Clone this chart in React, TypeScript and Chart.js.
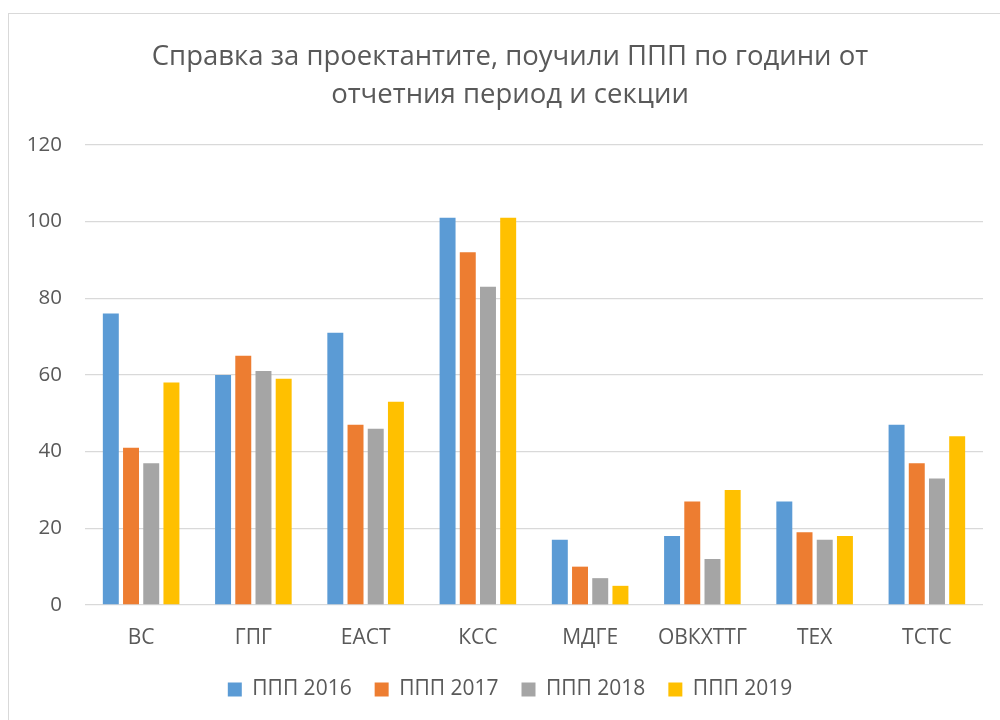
import React, { useEffect, useRef } from "react";
import { Chart, registerables } from "chart.js";

Chart.register(...registerables);

const categories = ["ВС", "ГПГ", "ЕАСТ", "КСС", "МДГЕ", "ОВКХТТГ", "ТЕХ", "ТСТС"];
const series2016 = [76, 60, 71, 101, 17, 18, 27, 47];
const series2017 = [41, 65, 47, 92, 10, 27, 19, 37];
const series2018 = [37, 61, 46, 83, 7, 12, 17, 33];
const series2019 = [58, 59, 53, 101, 5, 30, 18, 44];
const seriesNames = ["ППП 2016", "ППП 2017", "ППП 2018", "ППП 2019"];
const seriesColors = ["#5B9BD5", "#ED7D31", "#A5A5A5", "#FFC000"];
const titleLines = ["Справка за проектантите, поучили ППП по години от", "отчетния период и секции"];

const FONT = "'Open Sans', 'Noto Sans', sans-serif";
const TEXT = "#595959";
const GRID = "#D9D9D9";

export default function App() {
  const ref = useRef<HTMLCanvasElement>(null);
  useEffect(() => {
    if (!ref.current) return;
    const values = [series2016, series2017, series2018, series2019];
    const chart = new Chart(ref.current, {
      type: "bar",
      data: {
        labels: categories,
        datasets: values.map((v, i) => ({
          label: seriesNames[i],
          data: v,
          backgroundColor: seriesColors[i],
          borderWidth: 0,
          categoryPercentage: 0.72,
          barPercentage: 0.79,
          yAxisID: "y",
        })),
      },
      options: {
        animation: false,
        responsive: false,
        layout: { padding: { top: 13, left: 8, right: 0, bottom: 10 } },
        plugins: {
          title: {
            display: true,
            text: titleLines,
            color: TEXT,
            font: { family: FONT, size: 27.5, weight: "normal", lineHeight: 1.38 },
            padding: { top: 25, bottom: 31 },
          },
          legend: {
            position: "bottom",
            labels: {
              color: TEXT,
              font: { family: FONT, size: 21 },
              boxWidth: 14,
              boxHeight: 14,
              padding: 23,
            },
          },
          tooltip: { enabled: false },
        },
        scales: {
          x: {
            grid: { display: false, drawTicks: false },
            border: { display: false },
            ticks: { color: TEXT, font: { family: FONT, size: 21 }, padding: 20 },
            afterFit: (s: any) => { s.height = 51; },
          },
          y: {
            min: 0,
            max: 120,
            ticks: { stepSize: 20, color: TEXT, font: { family: FONT, size: 20.5 }, padding: 23 },
            grid: { color: GRID, lineWidth: 1.3, drawTicks: false },
            border: { display: false },
            afterFit: (s: any) => { s.width = 77; },
          },
          yr: {
            position: "right",
            display: true,
            min: 0,
            max: 120,
            grid: { display: false, drawTicks: false },
            border: { display: false },
            ticks: { display: false },
            afterFit: (s: any) => { s.width = 29; },
          },
        },
      },
    });
    return () => chart.destroy();
  }, []);

  return (
    <div style={{ position: "fixed", left: 0, top: 0, width: 1000, height: 720, overflow: "hidden", background: "#fff" }}>
      <canvas ref={ref} width={1012} height={720} style={{ position: "absolute", left: 0, top: 0, width: 1012, height: 720 }} />
      <div style={{ position: "absolute", left: 8, top: 13, width: 1100, height: 800, border: "1px solid #D9D9D9", pointerEvents: "none" }} />
    </div>
  );
}
